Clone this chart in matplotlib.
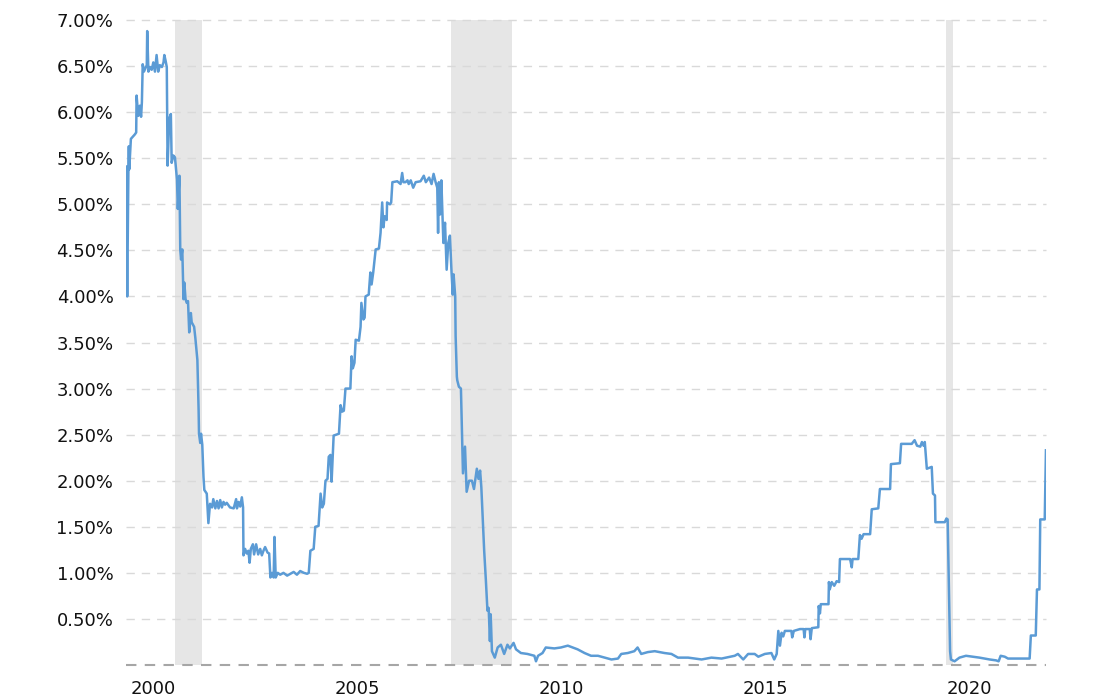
import numpy as np
import matplotlib
matplotlib.use("Agg")
import matplotlib.pyplot as plt
from matplotlib.ticker import FuncFormatter

# rate (%), x in decimal years
years = [
    1999.32, 1999.35, 1999.38, 1999.39, 1999.40, 1999.44, 1999.54, 1999.57, 1999.58, 1999.62,
    1999.66, 1999.69, 1999.71, 1999.73, 1999.76, 1999.83, 1999.84, 1999.87, 1999.91, 1999.95,
    1999.99, 2000.03, 2000.07, 2000.11, 2000.15, 2000.20, 2000.24, 2000.26, 2000.29, 2000.32,
    2000.33, 2000.34, 2000.38, 2000.42, 2000.44, 2000.48, 2000.52, 2000.57, 2000.59, 2000.63,
    2000.65, 2000.67, 2000.70, 2000.73, 2000.75, 2000.78, 2000.81, 2000.84, 2000.87, 2000.91,
    2000.93, 2000.99, 2001.02, 2001.07, 2001.10, 2001.11, 2001.14, 2001.16, 2001.19, 2001.22,
    2001.24, 2001.30, 2001.34, 2001.38, 2001.43, 2001.46, 2001.51, 2001.55, 2001.59, 2001.63,
    2001.67, 2001.71, 2001.75, 2001.79, 2001.87, 2001.96, 2002.02, 2002.04, 2002.08, 2002.12,
    2002.16, 2002.19, 2002.20, 2002.24, 2002.28, 2002.32, 2002.35, 2002.38, 2002.43, 2002.46,
    2002.51, 2002.56, 2002.61, 2002.65, 2002.69, 2002.73, 2002.79, 2002.83, 2002.86, 2002.90,
    2002.94, 2002.96, 2002.99, 2003.04, 2003.10, 2003.18, 2003.27, 2003.35, 2003.43, 2003.51,
    2003.59, 2003.68, 2003.76, 2003.80, 2003.84, 2003.92, 2003.96, 2004.04, 2004.09, 2004.13,
    2004.17, 2004.21, 2004.26, 2004.29, 2004.33, 2004.36, 2004.39, 2004.41, 2004.54, 2004.58,
    2004.62, 2004.66, 2004.70, 2004.82, 2004.85, 2004.88, 2004.92, 2004.95, 2005.03, 2005.07,
    2005.09, 2005.14, 2005.17, 2005.19, 2005.27, 2005.31, 2005.34, 2005.38, 2005.44, 2005.52,
    2005.56, 2005.60, 2005.63, 2005.66, 2005.71, 2005.72, 2005.79, 2005.82, 2005.85, 2005.97,
    2006.05, 2006.09, 2006.12, 2006.17, 2006.22, 2006.25, 2006.30, 2006.36, 2006.42, 2006.54,
    2006.62, 2006.67, 2006.75, 2006.81, 2006.86, 2006.91, 2006.95, 2006.97, 2006.99, 2007.02,
    2007.05, 2007.08, 2007.10, 2007.14, 2007.18, 2007.22, 2007.26, 2007.30, 2007.33, 2007.35,
    2007.39, 2007.40, 2007.43, 2007.44, 2007.48, 2007.53, 2007.58, 2007.63, 2007.67, 2007.73,
    2007.80, 2007.85, 2007.92, 2007.96, 2008.00, 2008.03, 2008.10, 2008.14, 2008.18, 2008.21,
    2008.24, 2008.26, 2008.29, 2008.36, 2008.43, 2008.51, 2008.59, 2008.67, 2008.73, 2008.82,
    2008.88, 2009.00, 2009.16, 2009.33, 2009.37, 2009.42, 2009.53, 2009.61, 2009.82, 2009.98,
    2010.15, 2010.27, 2010.39, 2010.56, 2010.72, 2010.89, 2011.05, 2011.22, 2011.38, 2011.46,
    2011.62, 2011.78, 2011.86, 2011.95, 2012.11, 2012.28, 2012.52, 2012.69, 2012.85, 2013.10,
    2013.43, 2013.67, 2013.92, 2014.24, 2014.32, 2014.45, 2014.57, 2014.73, 2014.82, 2014.98,
    2015.14, 2015.21, 2015.27, 2015.31, 2015.35, 2015.39, 2015.43, 2015.47, 2015.63, 2015.65,
    2015.69, 2015.84, 2015.93, 2015.95, 2015.97, 2016.08, 2016.10, 2016.13, 2016.29, 2016.30,
    2016.33, 2016.35, 2016.54, 2016.55, 2016.57, 2016.62, 2016.68, 2016.74, 2016.80, 2016.82,
    2017.07, 2017.11, 2017.13, 2017.27, 2017.31, 2017.35, 2017.40, 2017.56, 2017.60, 2017.76,
    2017.80, 2018.05, 2018.07, 2018.29, 2018.32, 2018.58, 2018.65, 2018.71, 2018.79, 2018.83,
    2018.87, 2018.90, 2018.95, 2019.07, 2019.10, 2019.15, 2019.16, 2019.39, 2019.43, 2019.46,
    2019.48, 2019.52, 2019.54, 2019.63, 2019.75, 2019.91, 2020.24, 2020.49, 2020.65, 2020.71,
    2020.76, 2020.86, 2020.94, 2021.47, 2021.50, 2021.62, 2021.65, 2021.71, 2021.73, 2021.84,
    2021.87,
]
rates = [
    5.41, 4.00, 5.41, 5.63, 5.38, 5.71, 5.76, 5.78, 6.18, 5.96,
    6.07, 5.95, 6.11, 6.52, 6.44, 6.51, 6.88, 6.44, 6.49, 6.46,
    6.54, 6.44, 6.62, 6.44, 6.51, 6.49, 6.54, 6.62, 6.56, 6.49,
    6.00, 5.42, 5.93, 5.98, 5.45, 5.53, 5.51, 5.27, 4.95, 5.31,
    4.51, 4.40, 4.51, 3.97, 4.15, 3.97, 3.93, 3.95, 3.61, 3.82,
    3.72, 3.67, 3.55, 3.31, 2.77, 2.51, 2.41, 2.51, 2.39, 2.04,
    1.90, 1.86, 1.54, 1.75, 1.71, 1.80, 1.70, 1.78, 1.70, 1.79,
    1.71, 1.77, 1.74, 1.76, 1.71, 1.70, 1.80, 1.70, 1.77, 1.72,
    1.82, 1.71, 1.19, 1.26, 1.21, 1.24, 1.11, 1.26, 1.31, 1.20,
    1.31, 1.20, 1.26, 1.19, 1.24, 1.28, 1.22, 1.21, 0.95, 1.00,
    0.95, 1.39, 0.95, 1.00, 0.98, 1.00, 0.97, 0.99, 1.01, 0.98,
    1.02, 1.00, 0.99, 1.00, 1.24, 1.26, 1.50, 1.51, 1.86, 1.71,
    1.75, 2.00, 2.02, 2.26, 2.28, 1.99, 2.29, 2.49, 2.51, 2.82,
    2.75, 2.76, 3.00, 3.00, 3.35, 3.22, 3.28, 3.53, 3.52, 3.67,
    3.93, 3.75, 3.77, 4.00, 4.02, 4.26, 4.13, 4.26, 4.51, 4.52,
    4.69, 5.02, 4.75, 4.87, 4.83, 5.02, 5.00, 5.02, 5.24, 5.25,
    5.22, 5.34, 5.24, 5.24, 5.26, 5.22, 5.26, 5.18, 5.24, 5.25,
    5.31, 5.24, 5.29, 5.22, 5.33, 5.24, 5.18, 4.69, 5.24, 4.89,
    5.26, 4.87, 4.58, 4.80, 4.29, 4.58, 4.66, 4.26, 4.02, 4.24,
    4.00, 3.57, 3.13, 3.09, 3.02, 3.00, 2.08, 2.37, 1.88, 2.00,
    2.00, 1.91, 2.13, 2.02, 2.11, 1.93, 1.24, 0.93, 0.59, 0.62,
    0.26, 0.55, 0.15, 0.08, 0.19, 0.22, 0.12, 0.22, 0.18, 0.24,
    0.17, 0.13, 0.12, 0.10, 0.04, 0.10, 0.13, 0.19, 0.18, 0.19,
    0.21, 0.19, 0.17, 0.13, 0.10, 0.10, 0.08, 0.06, 0.07, 0.12,
    0.13, 0.15, 0.19, 0.12, 0.14, 0.15, 0.13, 0.12, 0.08, 0.08,
    0.06, 0.08, 0.07, 0.10, 0.12, 0.06, 0.12, 0.12, 0.09, 0.12,
    0.13, 0.06, 0.12, 0.37, 0.21, 0.35, 0.31, 0.37, 0.37, 0.30,
    0.37, 0.39, 0.39, 0.30, 0.39, 0.39, 0.28, 0.40, 0.41, 0.64,
    0.56, 0.66, 0.66, 0.90, 0.82, 0.90, 0.86, 0.91, 0.90, 1.15,
    1.15, 1.06, 1.15, 1.15, 1.41, 1.37, 1.42, 1.42, 1.69, 1.70,
    1.91, 1.91, 2.18, 2.19, 2.40, 2.40, 2.44, 2.38, 2.37, 2.42,
    2.38, 2.42, 2.13, 2.15, 1.86, 1.84, 1.55, 1.55, 1.59, 1.58,
    1.10, 0.15, 0.06, 0.04, 0.08, 0.10, 0.08, 0.06, 0.05, 0.04,
    0.10, 0.09, 0.07, 0.07, 0.32, 0.32, 0.82, 0.82, 1.58, 1.58,
    2.33,
]

# shaded recession bands (start, end)
recessions = [(2000.52, 2001.19), (2007.28, 2008.78), (2019.43, 2019.59)]

year_ticks = [2000, 2005, 2010, 2015, 2020]
pct_ticks = [0.5, 1.0, 1.5, 2.0, 2.5, 3.0, 3.5, 4.0, 4.5, 5.0, 5.5, 6.0, 6.5, 7.0]

plt.rcParams['font.family'] = ['DejaVu Sans']

fig = plt.figure(figsize=(11.1, 7), dpi=100)
ax = fig.add_axes([0.1135, 0.05, 0.8288, 0.9214])

for start, end in recessions:
    ax.axvspan(start, end, color='#e6e6e6', lw=0, zorder=0)

for v in pct_ticks:
    ax.axhline(v, color='#d9d9d9', lw=1, ls=(0, (6, 5)), zorder=1, clip_on=False)
ax.axhline(0, color='#a6a6a6', lw=1.5, ls=(0, (5, 4)), zorder=1, clip_on=False)

ax.plot(years, rates, color='#5b9bd5', lw=1.8, zorder=3)

ax.set_xlim(1999.32, 2021.87)
ax.set_ylim(0, 7)
ax.set_xticks(year_ticks)
ax.set_yticks(pct_ticks)
ax.yaxis.set_major_formatter(FuncFormatter(lambda v, p: f"{v:.2f}%"))
ax.tick_params(length=0, labelsize=13, colors='#111111')
ax.tick_params(axis='y', pad=9)
ax.tick_params(axis='x', pad=11)
for s in ax.spines.values():
    s.set_visible(False)

fig.savefig('out.png', dpi=100)
